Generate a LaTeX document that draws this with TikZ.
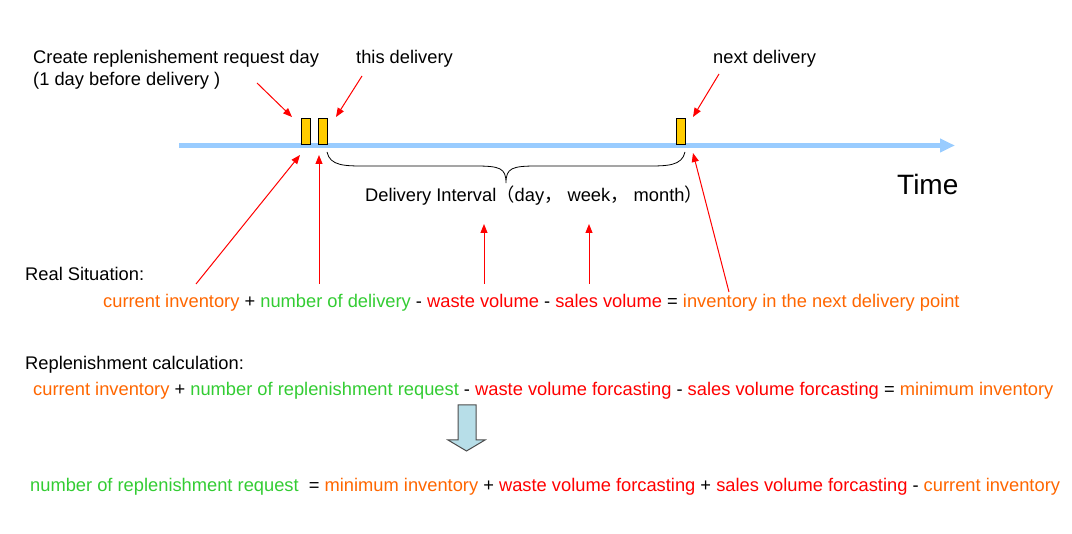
\documentclass[tikz,border=0pt]{standalone}
\usepackage{fontspec}
\setmainfont{Liberation Sans}
\newfontfamily\cjk{Noto Sans CJK SC}
\usetikzlibrary{arrows.meta}
\definecolor{cOr}{HTML}{FF6600}
\definecolor{cGr}{HTML}{33CC33}
\definecolor{cRd}{HTML}{FF0000}
\definecolor{cAxis}{HTML}{99CCFF}
\definecolor{cBox}{HTML}{FFCC00}
\definecolor{cDown}{HTML}{B7DEE8}
\newcommand{\tOr}[1]{\textcolor{cOr}{#1}}
\newcommand{\tGr}[1]{\textcolor{cGr}{#1}}
\newcommand{\tRd}[1]{\textcolor{cRd}{#1}}
\tikzset{
  txt/.style={inner sep=0pt, anchor=base west, font=\fontsize{18.3}{22}\selectfont},
  daybox/.style={draw=black, line width=1pt, fill=cBox, minimum width=9pt, minimum height=26pt, inner sep=0pt},
  redarrow/.style={draw=cRd, line width=1pt, -{Triangle[length=9pt,width=7pt]}},
  axisline/.style={draw=cAxis, line width=4.5pt, -{Triangle[length=15pt,width=13pt]}, shorten >=-2pt},
}
\begin{document}
\begin{tikzpicture}[x=1pt,y=-1pt]
\useasboundingbox (0,0) rectangle (1072,534);
% timeline
\coordinate (axstart) at (179,145.5);
\coordinate (axend) at (953,145.5);
\draw[axisline] (axstart) -- (axend);
\node[daybox] (b1) at (306,131.5) {};
\node[daybox] (b2) at (323,131.5) {};
\node[daybox] (b3) at (681,131.5) {};
% brace
\draw[line width=0.8pt] (327,152) .. controls (330,166) and (345,166) .. (365,166) -- (475,166)
  .. controls (500,166) and (506,168) .. (506,183)
  .. controls (506,168) and (512,166) .. (537,166) -- (647,166)
  .. controls (667,166) and (682,166) .. (685,152);
% labels
\node[txt, align=left, anchor=north west] (create) at (33,50) {Create replenishement request day\\(1 day before delivery )};
\node[txt] (this) at (356,64) {this delivery};
\node[txt] (next) at (713,64) {next delivery};
\node[txt, font=\fontsize{28}{32}\selectfont] (time) at (897,195) {Time};
\node[txt] (interval) at (365,202) {Delivery Interval{\cjk （}day{\cjk ，} week{\cjk ，} month{\cjk ）}};
\node[txt] (real) at (25,281) {Real Situation:};
\node[txt] (eq1) at (103,308) {\tOr{current inventory} + \tGr{number of delivery} - \tRd{waste volume} - \tRd{sales volume} = \tOr{inventory in the next delivery point}};
\node[txt] (repl) at (25,370) {Replenishment calculation:};
\node[txt] (eq2) at (33,396) {\tOr{current inventory} + \tGr{number of replenishment request} - \tRd{waste volume forcasting} - \tRd{sales volume forcasting} = \tOr{minimum inventory}};
\node[txt] (eq3) at (30,492) {\tGr{number of replenishment request}\ \ = \tOr{minimum inventory} + \tRd{waste volume forcasting} + \tRd{sales volume forcasting} - \tOr{current inventory}};
% red arrows
\coordinate (a1s) at (257,83);  \coordinate (a1e) at (292,117);
\coordinate (a2s) at (362,76);  \coordinate (a2e) at (336,117);
\coordinate (a3s) at (719,74);  \coordinate (a3e) at (693,117);
\coordinate (a4s) at (196,284); \coordinate (a4e) at (300,155);
\coordinate (a5s) at (319,284); \coordinate (a5e) at (319,155);
\coordinate (a6s) at (484,284); \coordinate (a6e) at (484,224);
\coordinate (a7s) at (589,284); \coordinate (a7e) at (589,224);
\coordinate (a8s) at (729,292); \coordinate (a8e) at (693,153);
\foreach \i in {1,...,8} { \draw[redarrow] (a\i s) -- (a\i e); }
% down arrow
\draw[fill=cDown, draw=black!70, line width=1pt] (458,405) -- (476,405) -- (476,440) -- (485,440) -- (466.5,451) -- (448,440) -- (458,440) -- cycle;
\end{tikzpicture}
\end{document}
